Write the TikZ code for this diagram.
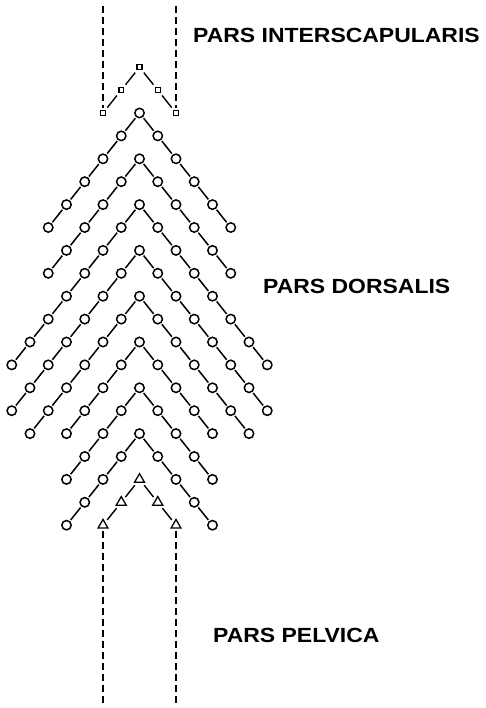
\documentclass[tikz,border=0pt]{standalone}
\usepackage{fontspec}
\usepackage{tikz}
\usetikzlibrary{shapes.geometric}
\newfontfamily\labfont[FakeStretch=1.12]{Liberation Sans}

\begin{document}
\begin{tikzpicture}[x=1pt,y=-1pt,
  cell/.style={circle,draw,line width=1.5pt,minimum size=9.4pt,inner sep=0pt},
  sq/.style={rectangle,draw,line width=1.3pt,minimum size=4.8pt,inner sep=0pt},
  tri/.style={regular polygon,regular polygon sides=3,draw,line width=1.3pt,minimum size=11.5pt,inner sep=0pt},
  link/.style={line width=1.5pt,shorten >=1.2pt,shorten <=1.2pt},
  slink/.style={line width=1.4pt,shorten >=3pt,shorten <=3pt},
  guide/.style={line width=1.3pt,dash pattern=on 7pt off 4pt},
  lab/.style={font=\labfont\bfseries\fontsize{20.5}{20.5}\selectfont,anchor=base west,inner sep=0pt}]
\useasboundingbox (0,0) rectangle (485,708);
\begin{scope}[shift={(139.5,113)},x=18.25pt,y=-22.9pt]
 \foreach \a/\n/\s/\l in {-2/2/sq/slink,0/5/cell/link,2/5/cell/link,4/7/cell/link,6/7/cell/link,
   8/6/cell/link,10/4/cell/link,12/4/cell/link,14/4/cell/link,16/2/tri/slink} {
  \node[\s,alias=v\a-r0] (v\a-l0) at (0,\a) {};
  \foreach \j [count=\k from 0] in {1,...,\n} {
   \node[\s] (v\a-l\j) at (-\j,\a+\j) {}; \node[\s] (v\a-r\j) at (\j,\a+\j) {};
   \draw[\l] (v\a-l\k) -- (v\a-l\j); \draw[\l] (v\a-r\k) -- (v\a-r\j);
  }
 }
\end{scope}
\coordinate (topL) at (v-2-l2 |- 0,6); \coordinate (topR) at (v-2-r2 |- 0,6);
\coordinate (botL) at (v16-l2 |- 0,704); \coordinate (botR) at (v16-r2 |- 0,704);
\draw[guide,shorten >=2pt] (topL) -- (v-2-l2); \draw[guide,shorten >=2pt] (topR) -- (v-2-r2);
\draw[guide,shorten <=2pt] (v16-l2) -- (botL); \draw[guide,shorten <=2pt] (v16-r2) -- (botR);
\node[lab] (inter) at (193,43) {PARS INTERSCAPULARIS};
\node[lab] (dors) at (263,293) {PARS DORSALIS};
\node[lab] (pelv) at (213,642) {PARS PELVICA};
\end{tikzpicture}
\end{document}
